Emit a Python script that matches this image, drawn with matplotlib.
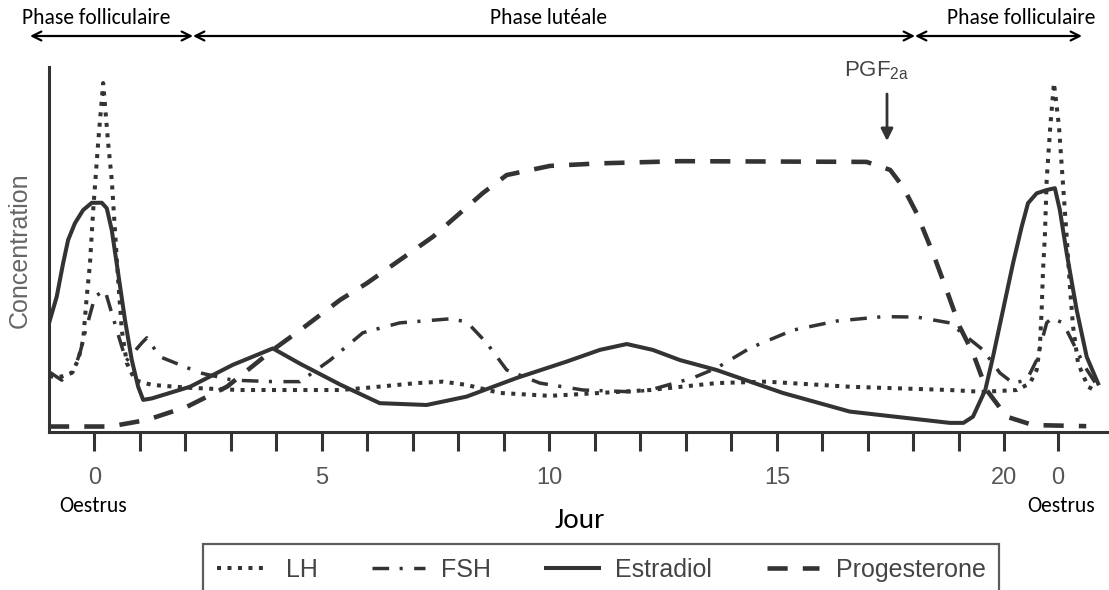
import matplotlib.pyplot as plt
from matplotlib.lines import Line2D

# Cycle oestral : jours (0 = oestrus) et concentrations relatives
jours_ticks = [0, 1, 2, 3, 4, 5, 6, 7, 8, 9, 10, 11, 12, 13, 14, 15, 16, 17, 18, 19, 20, 21.18]
jours_labels = ['0', '', '', '', '', '5', '', '', '', '', '10', '', '', '', '', '15',
                '', '', '', '', '20', '0']

lh_jour = [-1.0, -0.72, -0.50, -0.36, -0.25, -0.17, -0.10, -0.03, 0.08, 0.19, 0.30, 0.38,
           0.45, 0.52, 0.60, 0.71, 0.89, 1.26, 2.10, 3.20, 5.40, 5.98, 7.08, 7.66, 8.18,
           8.91, 10.01, 11.11, 12.21, 13.67, 14.77, 16.60, 18.80, 19.53, 20.27, 20.56,
           20.71, 20.78, 20.82, 20.85, 20.89, 20.93, 21.01, 21.09, 21.20, 21.29, 21.37,
           21.44, 21.51, 21.62, 21.84, 22.05]
lh_conc = [15.2, 15.2, 16.2, 19.7, 25.2, 37.1, 46.0, 60.5, 79.2, 95.6, 79.2, 69.0,
           55.3, 41.6, 27.9, 18.9, 14.2, 12.9, 12.1, 11.5, 11.5, 12.1, 13.4, 13.8, 12.9,
           10.7, 9.9, 10.7, 11.5, 13.4, 13.8, 12.4, 11.5, 11.0, 11.5, 13.3,
           17.0, 23.4, 33.4, 44.4, 53.5, 69.0, 83.8, 95.6, 83.8, 67.7, 53.5,
           39.9, 28.9, 18.8, 12.4, 11.0]

fsh_jour = [-1.0, -0.72, -0.47, -0.32, -0.21, 0.01, 0.23, 0.38, 0.60, 0.70, 1.04, 1.15,
            1.44, 2.32, 3.04, 3.92, 4.52, 5.18, 5.90, 6.71, 7.81, 8.18, 8.62, 9.06,
            9.79, 10.74, 11.84, 12.21, 13.15, 13.67, 14.41, 15.35, 16.31, 17.33, 18.07,
            18.80, 19.17, 19.53, 19.90, 20.19, 20.49, 20.71, 20.93, 21.04, 21.29, 21.51,
            21.77, 22.10]
fsh_conc = [16.5, 14.2, 16.5, 21.6, 27.1, 37.1, 38.9, 32.5, 23.4, 19.5, 24.4, 25.8,
            20.6, 16.2, 14.2, 13.8, 13.8, 19.7, 27.2, 29.9, 31.0, 30.2, 24.4, 17.0,
            13.4, 11.5, 11.0, 11.5, 14.8, 17.5, 23.0, 27.9, 30.4, 31.6, 31.5,
            29.9, 26.1, 22.5, 16.2, 13.4, 14.2, 19.7, 29.9, 31.2, 29.9, 24.4,
            17.9, 11.5]

e2_jour = [-1.0, -0.83, -0.69, -0.58, -0.43, -0.25, -0.06, 0.16, 0.27, 0.38, 0.52, 0.67,
           0.82, 0.96, 1.07, 1.26, 2.10, 3.04, 3.92, 4.52, 5.40, 6.27, 7.30, 8.18, 9.28,
           10.38, 11.11, 11.70, 12.27, 12.87, 13.67, 15.13, 16.60, 18.80, 19.10, 19.31,
           19.58, 19.75, 19.97, 20.19, 20.38, 20.52, 20.71, 20.93, 21.11, 21.22, 21.37,
           21.59, 21.81, 22.06]
e2_conc = [29.8, 37.1, 46.2, 52.6, 57.2, 60.8, 62.8, 62.8, 61.3, 55.3, 43.5, 30.7,
           19.7, 12.4, 8.8, 9.2, 12.4, 18.4, 22.9, 18.7, 13.0, 7.9, 7.4, 9.7, 14.8,
           19.3, 22.5, 24.1, 22.5, 19.7, 17.0, 10.7, 5.6, 2.5, 2.5, 4.2,
           11.5, 20.6, 33.4, 46.2, 56.2, 62.7, 65.4, 66.3, 66.8, 60.8, 49.0,
           33.4, 20.6, 13.3]

p4_jour = [-1.0, 0.34, 1.15, 2.03, 2.91, 3.92, 4.52, 5.40, 5.98, 7.44, 8.54, 9.06,
           10.01, 11.11, 12.87, 16.97, 17.49, 17.77, 18.07, 18.43, 18.73, 19.02, 19.31,
           19.61, 20.05, 20.63, 21.80]
p4_conc = [1.5, 1.5, 3.3, 6.9, 12.4, 22.5, 27.9, 36.2, 40.7, 53.5, 65.5, 70.4,
           72.9, 73.6, 74.2, 74.0, 71.8, 67.2, 60.0, 49.0, 38.9, 28.8, 21.6,
           11.5, 4.2, 1.9, 1.6]

noms = ['LH', 'FSH', 'Estradiol', 'Progesterone']

W, H = 1109, 590
fx = lambda x: x / W
fy = lambda y: 1 - y / H

gris = '#333333'
police_calibri = ['Carlito', 'Lato', 'DejaVu Sans']
police_helv = ['Liberation Sans Narrow', 'Liberation Sans', 'DejaVu Sans']

fig = plt.figure(figsize=(W / 100, H / 100), dpi=100)
ax = fig.add_axes([fx(49), fy(432), fx(1109) - fx(49), fy(67) - fy(432)])

styles = {
    'LH': dict(dashes=(1.0, 1.6), lw=2.9),
    'FSH': dict(dashes=(4.8, 3.0, 0.9, 3.3), lw=2.5),
    'Estradiol': dict(ls='-', lw=2.9),
    'Progesterone': dict(dashes=(4.4, 3.3), lw=3.3),
}

ax.plot(lh_jour, lh_conc, color=gris, dash_capstyle='butt', **styles['LH'])
ax.plot(fsh_jour, fsh_conc, color=gris, dash_capstyle='butt', **styles['FSH'])
ax.plot(e2_jour, e2_conc, color=gris, solid_joinstyle='round', **styles['Estradiol'])
ax.plot(p4_jour, p4_conc, color=gris, dash_capstyle='butt', **styles['Progesterone'])

ax.set_xlim(-1.0, 22.3)
ax.set_ylim(0, 100)
for s in ['top', 'right']:
    ax.spines[s].set_visible(False)
for s in ['left', 'bottom']:
    ax.spines[s].set_linewidth(2.2)
    ax.spines[s].set_color(gris)

ax.set_yticks([])
ax.set_xticks(jours_ticks)
ax.set_xticklabels(jours_labels, family=police_helv, fontsize=17, color='#555555')
ax.tick_params(axis='x', direction='out', length=14, width=2.2, color=gris, pad=11)

fig.text(fx(20), fy(250), 'Concentration', rotation=90, ha='center', va='center',
         family=police_helv, fontsize=18, color='#666666')
fig.text(fx(580), fy(521), 'Jour', ha='center', va='center',
         family=police_calibri, fontsize=21, color='black')
fig.text(fx(93), fy(506), 'Oestrus', ha='center', va='center',
         family=police_calibri, fontsize=15.5, color='black')
fig.text(fx(1061), fy(506), 'Oestrus', ha='center', va='center',
         family=police_calibri, fontsize=15.5, color='black')

# phases du cycle
phases = [('Phase folliculaire', 30, 193, 96), ('Phase lutéale', 193, 915, 548),
          ('Phase folliculaire', 915, 1082, 1021)]
for nom, x0, x1, xt in phases:
    ax.annotate('', xy=(fx(x0), fy(36)), xytext=(fx(x1), fy(36)),
                xycoords='figure fraction', textcoords='figure fraction',
                arrowprops=dict(arrowstyle='<->', lw=1.6, color='black',
                                mutation_scale=16, shrinkA=0, shrinkB=0))
    fig.text(fx(xt), fy(18), nom, ha='center', va='center',
             family=police_calibri, fontsize=15.5)

# luteolyse
fig.text(fx(877), fy(71), r'PGF$_{\mathregular{2a}}$', ha='center', va='center',
         family=police_helv, fontsize=16, color='#444444')
ax.annotate('', xy=(fx(887), fy(141)), xytext=(fx(887), fy(94)),
            xycoords='figure fraction', textcoords='figure fraction',
            arrowprops=dict(arrowstyle='-|>', lw=2, color='#333333',
                            mutation_scale=18, shrinkA=0, shrinkB=0))

handles = [Line2D([], [], color=gris, dash_capstyle='butt', **styles[k]) for k in noms]
leg = fig.legend(handles, noms, loc='upper left', bbox_to_anchor=(fx(203), fy(544)),
                 ncol=4, frameon=True, fancybox=False, borderaxespad=0,
                 handlelength=2.1, handletextpad=0.65, columnspacing=2.2,
                 borderpad=0.55, prop=dict(family=police_helv, size=18))
leg.get_frame().set_edgecolor(gris)
leg.get_frame().set_linewidth(1.6)
for t in leg.get_texts():
    t.set_color('#444444')

fig.savefig('out.png', dpi=100)
